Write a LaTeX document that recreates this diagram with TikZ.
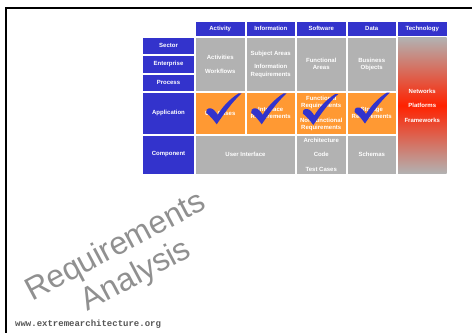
\documentclass[tikz,border=0pt]{standalone}
\usepackage{fontspec}
\setmainfont{Liberation Sans}
\setmonofont{Liberation Mono}
\definecolor{hblue}{HTML}{3333CC}
\definecolor{cgray}{HTML}{B2B2B2}
\definecolor{corange}{HTML}{FF9933}
\definecolor{cred}{HTML}{FF2200}
\definecolor{wmgray}{HTML}{909090}
\definecolor{urlgray}{HTML}{555555}
\tikzset{
  cellbase/.style={rectangle, inner sep=0pt, text=white, align=center,
    font=\fontsize{6}{7}\selectfont\bfseries},
  bluecell/.style={cellbase, fill=hblue},
  graycell/.style={cellbase, fill=cgray},
  orangecell/.style={cellbase, fill=corange},
  checkmark/.pic={
    \fill[hblue] (0,0) .. controls (7,-10) and (15,-22) .. (25,-31)
      -- (22,-31) .. controls (12.5,-25) and (5.5,-17) .. (1,-9.5)
      .. controls (-1,-12.5) and (-3,-15.5) .. (-6,-16)
      .. controls (-9.5,-16.5) and (-11.5,-13.5) .. (-10.5,-11.5)
      .. controls (-6,-8) and (-3,-4) .. (0,0) -- cycle;
  }
}
\begin{document}
\begin{tikzpicture}[x=1pt,y=-1pt]
\useasboundingbox (0,0) rectangle (472,333);
% frame lines
\draw[line width=2pt] (472,8.2) -- (6,8.2) -- (6,333);
% header row
\node[bluecell, minimum width=48.5pt, minimum height=13.5pt] (hact) at (220.25,28.75) {Activity};
\node[bluecell, minimum width=48.5pt, minimum height=13.5pt] (hinf) at (270.75,28.75) {Information};
\node[bluecell, minimum width=48.5pt, minimum height=13.5pt] (hsw) at (321.25,28.75) {Software};
\node[bluecell, minimum width=48.5pt, minimum height=13.5pt] (hdata) at (371.75,28.75) {Data};
\node[bluecell, minimum width=48.5pt, minimum height=13.5pt] (htech) at (422.25,28.75) {Technology};
% row labels
\node[bluecell, minimum width=51pt, minimum height=16.5pt] (rsec) at (168.5,45.75) {Sector};
\node[bluecell, minimum width=51pt, minimum height=16.5pt] (rent) at (168.5,64.25) {Enterprise};
\node[bluecell, minimum width=51pt, minimum height=16.5pt] (rproc) at (168.5,82.75) {Process};
\node[bluecell, minimum width=51pt, minimum height=40.5pt] (rapp) at (168.5,113.25) {Application};
\node[bluecell, minimum width=51pt, minimum height=38pt] (rcomp) at (168.5,154.5) {Component};
% upper gray block
\node[graycell, minimum width=48.5pt, minimum height=53.5pt] (gact) at (220.25,64.25) {Activities\\[7pt]Workflows};
\node[graycell, minimum width=48.5pt, minimum height=53.5pt] (ginf) at (270.75,64.25) {Subject Areas\\[6.5pt]Information\\[1pt]Requirements};
\node[graycell, minimum width=48.5pt, minimum height=53.5pt] (gsw) at (321.25,64.25) {Functional\\Areas};
\node[graycell, minimum width=48.5pt, minimum height=53.5pt] (gdata) at (371.75,64.25) {Business\\Objects};
% technology column
\node[cellbase, minimum width=48.5pt, minimum height=136pt,
  top color=cgray, bottom color=cgray, middle color=cred] (tech) at (422.25,105.5)
  {Networks\\[7.5pt]Platforms\\[7.5pt]Frameworks};
% application row
\node[orangecell, minimum width=48.5pt, minimum height=40.5pt] (aact) at (220.25,113.25) {Use Cases};
\node[orangecell, minimum width=48.5pt, minimum height=40.5pt] (ainf) at (270.75,113.25) {Interface\\Requirements};
\node[orangecell, minimum width=48.5pt, minimum height=40.5pt] (asw) at (321.25,113.25) {Functional\\Requirements\\[8pt]Non-functional\\Requirements};
\node[orangecell, minimum width=48.5pt, minimum height=40.5pt] (adata) at (371.75,113.25) {Storage\\Requirements};
% component row
\node[graycell, minimum width=99pt, minimum height=38pt] (cui) at (245.5,154.5) {User Interface};
\node[graycell, minimum width=48.5pt, minimum height=38pt] (csw) at (321.25,154.5) {Architecture\\[7.5pt]Code\\[7.5pt]Test Cases};
\node[graycell, minimum width=48.5pt, minimum height=38pt] (cdata) at (371.75,154.5) {Schemas};
% checkmarks
\pic at (216.7,124.3) {checkmark};
\pic at (261.7,124.3) {checkmark};
\pic at (313.3,125) {checkmark};
\pic at (365,123.5) {checkmark};
% watermark
\node[rotate=28, anchor=base, inner sep=0pt, text=wmgray, font=\fontsize{32}{32}\selectfont] (wreq) at (120,255) {Requirements};
\node[rotate=28, anchor=base, inner sep=0pt, text=wmgray, font=\fontsize{32}{32}\selectfont] (wana) at (140.5,283.5) {Analysis};
% url
\node[anchor=base west, inner sep=0pt, text=urlgray, font=\fontsize{9}{9}\selectfont\ttfamily\bfseries] (url) at (15,326) {www.extremearchitecture.org};
\end{tikzpicture}
\end{document}
